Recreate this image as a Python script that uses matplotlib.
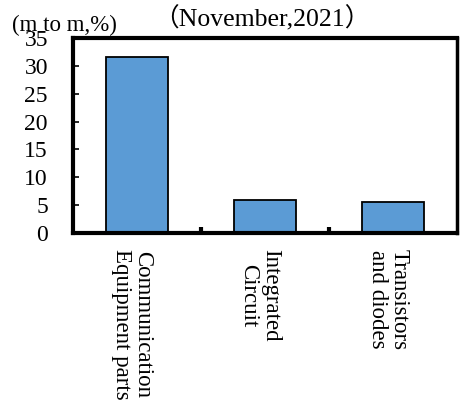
import matplotlib
matplotlib.use('Agg')
import matplotlib.pyplot as plt
import matplotlib.transforms as mtransforms
from matplotlib.ticker import FixedLocator

plt.rcParams['font.family'] = ['Liberation Serif', 'Noto Sans CJK SC', 'DejaVu Sans']

categories = ['Communication\nEquipment parts', 'Integrated\nCircuit', 'Transistors\nand diodes']
values = [31.6, 5.9, 5.5]
yticks = [0, 5, 10, 15, 20, 25, 30, 35]

fig = plt.figure(figsize=(4.62, 4.04), dpi=100)
ax = fig.add_axes([0.158, 0.423, 0.831, 0.483])

x = list(range(len(categories)))
ax.bar(x, values, width=0.49, color='#5B9BD5', edgecolor='black', linewidth=1.3, zorder=2)

ax.set_xlim(-0.5, 2.5)
ax.set_ylim(0, 35)
ax.set_yticks(yticks)
ax.set_xticks([])
ax.xaxis.set_minor_locator(FixedLocator([0.5, 1.5]))
ax.tick_params(axis='x', which='minor', direction='in', length=4, width=3)
ax.tick_params(axis='y', direction='in', length=4, width=1.2, labelsize=17, pad=18)

# category labels, rotated, a little left of the bar centres
trans = ax.get_xaxis_transform() + mtransforms.ScaledTranslation(-0.05, -0.16, fig.dpi_scale_trans)
for xi, lab in zip(x, categories):
    ax.text(xi, 0, lab, transform=trans, rotation=-90, fontsize=16.5,
            va='top', ha='center', linespacing=1.05, rotation_mode='default')

for side in ['left', 'bottom', 'top']:
    ax.spines[side].set_linewidth(3)
ax.spines['right'].set_linewidth(2.5)

fig.text(0.026, 0.938, '(m to m,%)', fontsize=16.5, va='center', ha='left')
fig.text(0.566, 0.953, '（November,2021）', fontsize=18.5, va='center', ha='center')

fig.savefig('out.png', dpi=100)
